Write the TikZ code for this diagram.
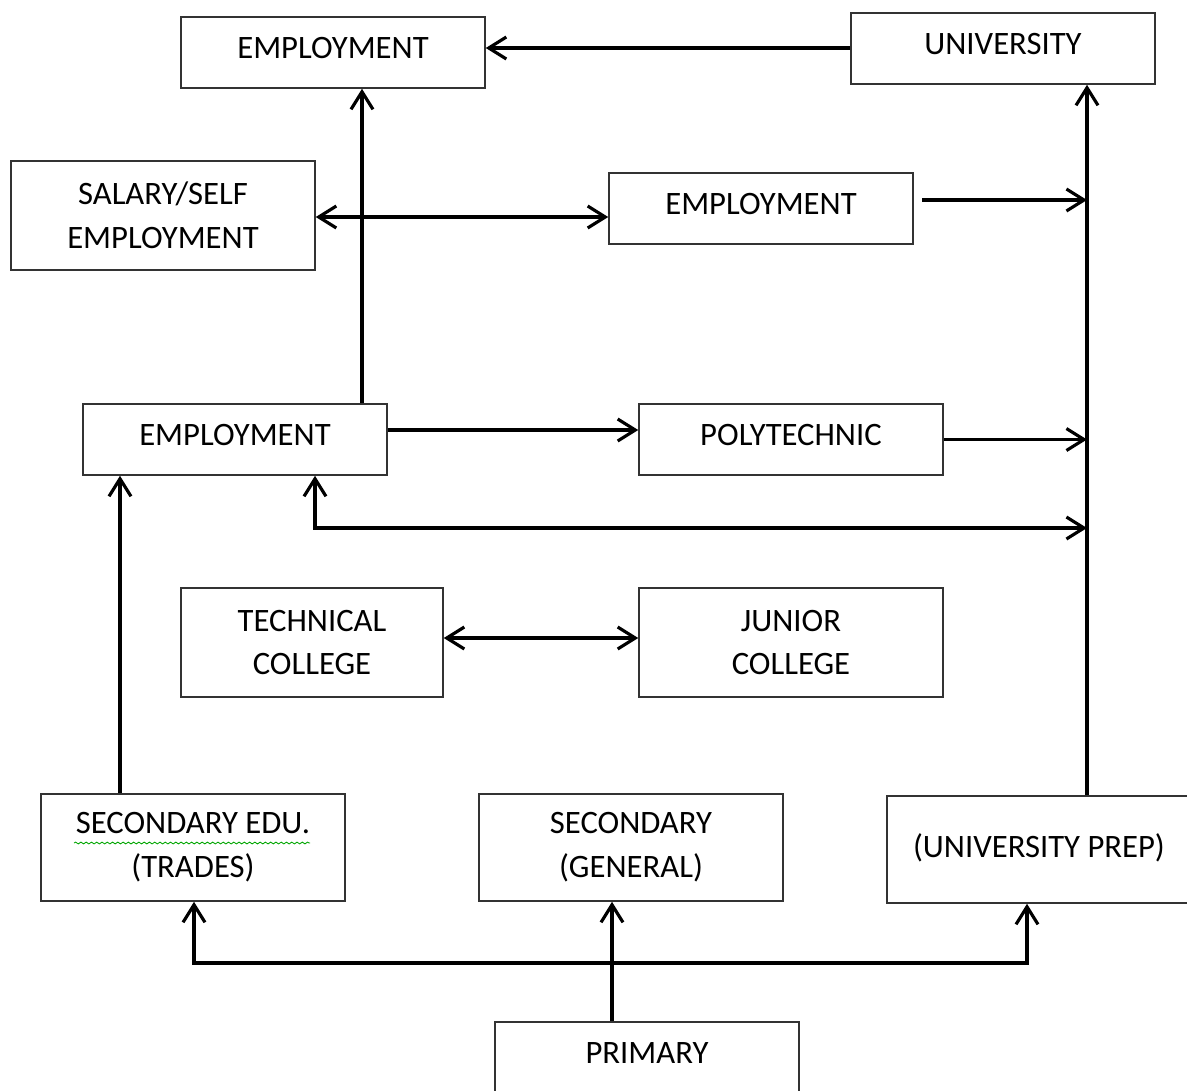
\documentclass[tikz,border=0pt]{standalone}
\usepackage{fontspec}
\setmainfont{Carlito}
\usetikzlibrary{arrows.meta,decorations.pathmorphing}
\begin{document}
\begin{tikzpicture}[x=0.02cm,y=-0.02cm,
  box/.style={draw=black!80,line width=0.9pt,fill=white,align=center,
    font=\fontsize{18.6}{25}\selectfont,inner sep=0pt},
  bw/.style={minimum width=6.08cm},
  one/.style={minimum height=1.42cm,text depth=4.8pt},
  two/.style={minimum height=2.18cm},
  arr/.style={line width=1.8pt,-{Straight Barb[length=10pt,width=12.5pt]}},
  darr/.style={line width=1.8pt,{Straight Barb[length=10pt,width=12.5pt]}-{Straight Barb[length=10pt,width=12.5pt]}}]
\useasboundingbox (0,0) rectangle (1187,1090);
\begin{scope}
\clip (0,0) rectangle (1187,1090);
\node[box,bw,one] (emp1) at (333,52.5) {EMPLOYMENT};
\node[box,bw,one] (univ) at (1003,48.5) {UNIVERSITY};
\node[box,bw,two] (salary) at (163,215.5) {SALARY/SELF\\EMPLOYMENT};
\node[box,bw,one] (emp2) at (761,208.5) {EMPLOYMENT};
\node[box,bw,one] (emp3) at (235,439.5) {EMPLOYMENT};
\node[box,bw,one] (poly) at (791,439.5) {POLYTECHNIC};
\node[box,minimum width=5.24cm,two] (tech) at (312,642.5) {TECHNICAL\\COLLEGE};
\node[box,bw,two] (junior) at (791,642.5) {JUNIOR\\COLLEGE};
\node[box,bw,minimum height=2.14cm] (sectr) at (193,847.5) {SECONDARY EDU.\\(TRADES)};
\node[box,bw,minimum height=2.14cm] (secgen) at (631,847.5) {SECONDARY\\(GENERAL)};
\node[box,bw,minimum height=2.14cm,text depth=4pt] (uprep) at (1039,849.5) {(UNIVERSITY PREP)};
\node[box,bw,one] (primary) at (647,1057.5) {PRIMARY};
\end{scope}
\coordinate (vx) at (1087,0);
\coordinate (c362) at (362,0);
\coordinate (c315) at (315,0);
\coordinate (c120) at (120,0);
\coordinate (c612) at (612,0);
\coordinate (c194) at (194,0);
\coordinate (c1027) at (1027,0);
\coordinate (r528) at (0,528);
\coordinate (r963) at (0,963);
\coordinate (e2s) at (922,200);
\coordinate (r430) at (0,430);
\coordinate (r48) at (0,48);
% squiggle
\draw[green!65!black,line width=0.5pt,decorate,decoration={snake,amplitude=0.5pt,segment length=3pt}] (74,843) -- (310,843);
% connectors
\draw[arr] (univ.west |- r48) -- (emp1.east |- r48);
\draw[arr] (vx |- uprep.north) -- (vx |- univ.south);
\draw[arr] (e2s) -- (e2s -| vx);
\draw[arr] (c362 |- emp3.north) -- (c362 |- emp1.south);
\draw[darr] (salary.east |- 0,217) -- (emp2.west |- 0,217);
\draw[arr] (emp3.east |- r430) -- (poly.west |- r430);
\draw[arr] (poly.east) -- (poly.east -| vx);
\draw[darr] (c315 |- emp3.south) |- (vx |- r528);
\draw[darr] (tech.east |- 0,638) -- (junior.west |- 0,638);
\draw[arr] (c120 |- sectr.north) -- (c120 |- emp3.south);
\draw[arr] (c612 |- primary.north) -- (c612 |- secgen.south);
\draw[darr] (c194 |- sectr.south) |- (c1027 |- r963) -- (c1027 |- uprep.south);
\end{tikzpicture}
\end{document}
